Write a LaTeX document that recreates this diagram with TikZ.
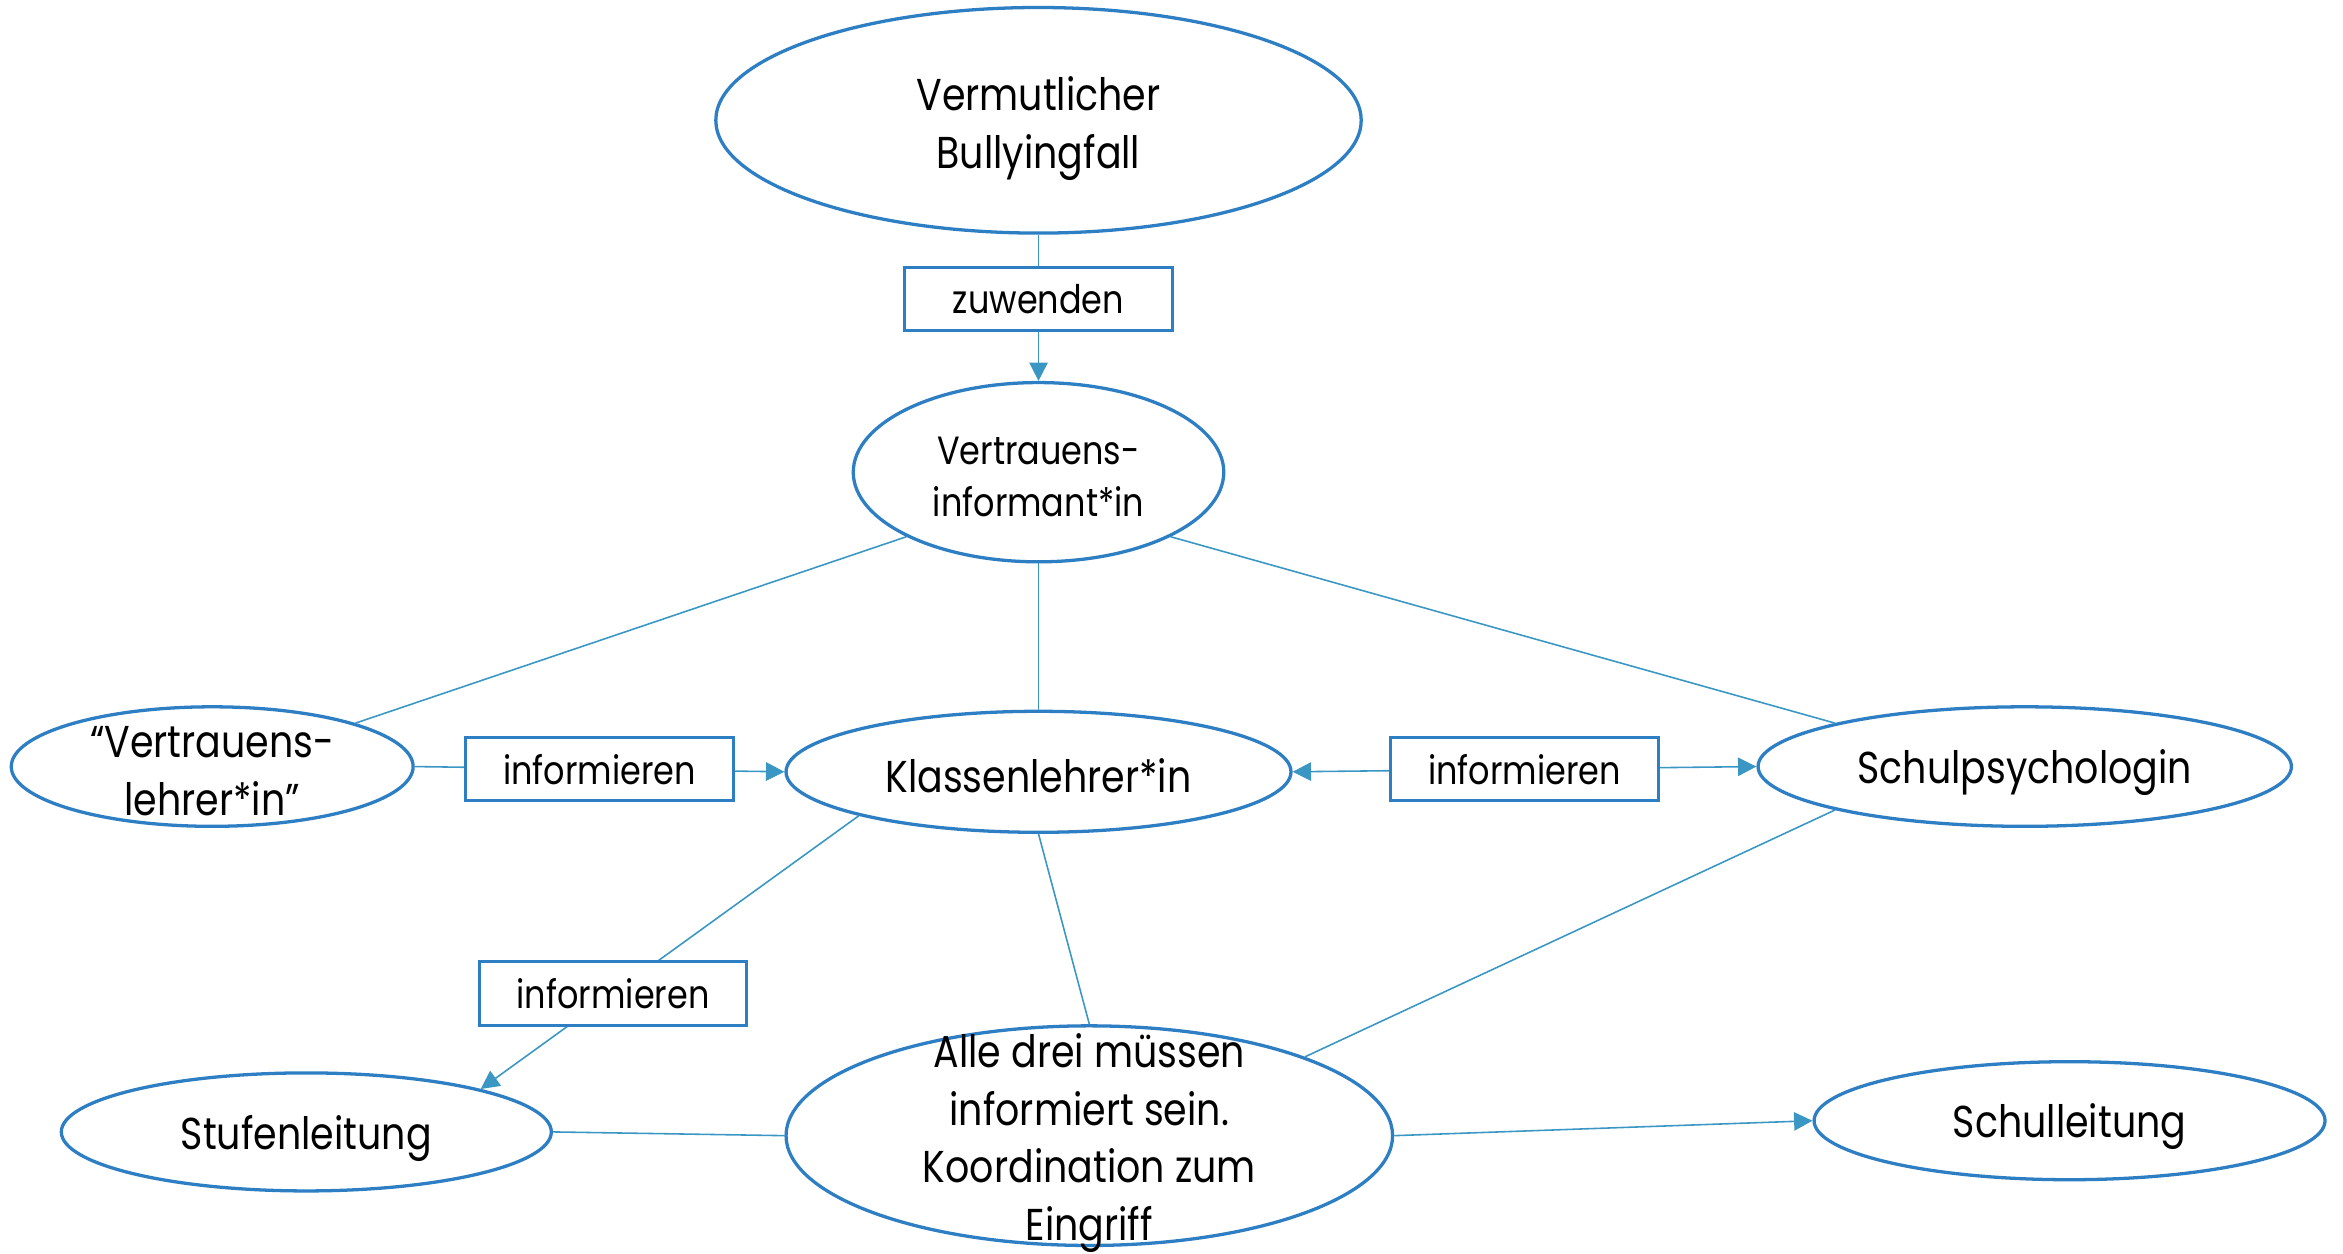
\documentclass[tikz,border=0pt]{standalone}
\usepackage{fontspec}
\setmainfont{Poppins}[FakeStretch=0.85]
\usetikzlibrary{arrows.meta,shapes.geometric}
\definecolor{shapeblue}{RGB}{46,126,196}
\definecolor{linkblue}{RGB}{58,150,195}
\tikzset{
  oval/.style={ellipse,draw=shapeblue,line width=1.25pt,fill=white,inner sep=0pt},
  ovaltext/.style={align=center,inner sep=0pt,font=\fontsize{17pt}{22pt}\selectfont},
  lblbox/.style={rectangle,draw=shapeblue,line width=1.15pt,fill=white,inner sep=0pt,
    minimum width=3.58cm,minimum height=0.85cm,font=\fontsize{15pt}{18pt}\selectfont},
  link/.style={draw=linkblue,line width=0.6pt},
  arr/.style={link,-{Triangle[length=7pt,width=7pt]}},
  darr/.style={link,{Triangle[length=7pt,width=7pt]}-{Triangle[length=7pt,width=7pt]}}
}
\begin{document}
\begin{tikzpicture}[x=0.02cm,y=-0.02cm]
\useasboundingbox (0,0) rectangle (1568,839);
% ellipses
\node[oval,minimum width=8.64cm,minimum height=3.02cm] (top) at (695,80.5) {};
\node[oval,minimum width=4.96cm,minimum height=2.4cm] (inf) at (695,316) {};
\node[oval,minimum width=5.38cm,minimum height=1.6cm] (vl) at (142,513) {};
\node[oval,minimum width=6.76cm,minimum height=1.62cm] (kl) at (695,516.5) {};
\node[oval,minimum width=7.14cm,minimum height=1.6cm] (sp) at (1355,513) {};
\node[oval,minimum width=6.56cm,minimum height=1.58cm] (stu) at (205,757.5) {};
\node[oval,minimum width=8.12cm,minimum height=2.94cm] (alle) at (729,760) {};
\node[oval,minimum width=6.84cm,minimum height=1.58cm] (sl) at (1385,750) {};
% connectors
\draw[arr] (top.south) -- node[lblbox,pos=0.44] (zw) {zuwenden} (inf.north);
\draw[link] (inf.south west) -- (vl.north east);
\draw[link] (inf.south) -- (kl.north);
\draw[link] (inf.south east) -- (sp.north west);
\draw[arr] (vl.east) -- node[lblbox,pos=0.5] (inf1) {informieren} (kl.west);
\draw[darr] (kl.east) -- node[lblbox,pos=0.5] (inf2) {informieren} (sp.west);
\draw[arr] (kl.south west) -- node[lblbox,pos=0.65] (inf3) {informieren} (stu.north east);
\draw[link] (kl.south) -- (alle.north);
\draw[link] (sp.south west) -- (alle.north east);
\draw[link] (stu.east) -- (alle.west);
\draw[arr] (alle.east) -- (sl.west);
% texts
\node[ovaltext] (topT) at (695,86) {Vermutlicher\\Bullyingfall};
\node[ovaltext,font=\fontsize{15pt}{19.8pt}\selectfont] (infT) at (695,319) {Vertrauens-\\informant*in};
\node[ovaltext] (vlT) at (142,516) {“Vertrauens-\\lehrer*in”};
\node[ovaltext] (klT) at (695,519) {Klassenlehrer*in};
\node[ovaltext] (spT) at (1355,517) {Schulpsychologin};
\node[ovaltext] (stuT) at (205,762) {Stufenleitung};
\node[ovaltext] (alleT) at (729,765) {Alle drei müssen\\informiert sein.\\Koordination zum\\Eingriff};
\node[ovaltext] (slT) at (1385,754) {Schulleitung};
\end{tikzpicture}
\end{document}
